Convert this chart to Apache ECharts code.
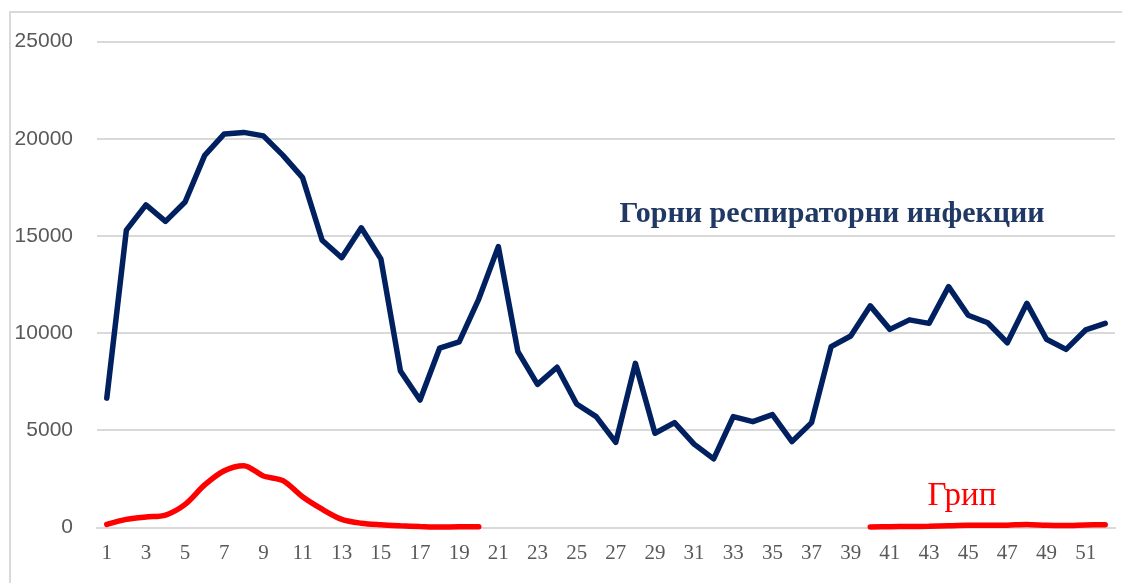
<!DOCTYPE html>
<html>
<head>
<meta charset="utf-8">
<script src="https://cdn.jsdelivr.net/npm/echarts@6/dist/echarts.min.js"></script>
<style>
  html, body { margin: 0; padding: 0; background: #ffffff; }
  #chart { width: 1122px; height: 583px; }
</style>
</head>
<body>
<div id="chart"></div>
<script>
// Weeks of the year
const weeks = Array.from({ length: 52 }, (_, i) => String(i + 1));

// Upper respiratory infections, weekly counts
const upperResp = [
  6650, 15300, 16600, 15750, 16750, 19150, 20250, 20330, 20150, 19150,
  18000, 14780, 13880, 15420, 13820, 8050, 6550, 9220, 9550, 11750,
  14450, 9040, 7360, 8240, 6350, 5700, 4370, 8440, 4840, 5390,
  4280, 3520, 5700, 5440, 5800, 4410, 5390, 9300, 9850, 11400,
  10190, 10680, 10500, 12390, 10920, 10530, 9500, 11530, 9680, 9160,
  10160, 10500
];

// Influenza, weekly counts (no data for weeks 21-39)
const influenza = [
  150, 410, 530, 630, 1180, 2180, 2910, 3170, 2640, 2400,
  1570, 930, 410, 210, 130, 80, 40, 10, 30, 30,
  null, null, null, null, null, null, null, null, null, null,
  null, null, null, null, null, null, null, null, null, 20,
  30, 40, 50, 80, 100, 100, 110, 150, 100, 90,
  120, 130
];

const yTicks = { min: 0, max: 25000, interval: 5000 };

const chart = echarts.init(document.getElementById('chart'), null, { renderer: 'canvas' });

chart.setOption({
  animation: false,
  backgroundColor: '#ffffff',
  grid: { left: 97, right: 7, top: 41.7, bottom: 55.7 },
  xAxis: {
    type: 'category',
    data: weeks,
    boundaryGap: true,
    axisLine: { show: true, lineStyle: { color: '#d9d9d9', width: 2 } },
    axisTick: { show: false },
    axisLabel: {
      interval: 1,
      margin: 16,
      color: '#595959',
      fontFamily: 'Liberation Serif',
      fontSize: 21
    }
  },
  yAxis: {
    type: 'value',
    min: yTicks.min,
    max: yTicks.max,
    interval: yTicks.interval,
    axisLine: { show: false },
    axisTick: { show: false },
    splitLine: { lineStyle: { color: '#d9d9d9', width: 2 } },
    axisLabel: {
      margin: 24,
      color: '#595959',
      fontFamily: 'Liberation Sans',
      fontSize: 21,
      formatter: (v) => String(v)
    }
  },
  series: [
    {
      name: 'Горни респираторни инфекции',
      type: 'line',
      data: upperResp,
      symbol: 'none',
      lineStyle: { color: '#002060', width: 5.5, join: 'round', cap: 'round' },
      z: 3
    },
    {
      name: 'Грип',
      type: 'line',
      data: influenza,
      symbol: 'none',
      connectNulls: false,
      smooth: 0.3,
      lineStyle: { color: '#ff0000', width: 5.5, cap: 'round' },
      z: 4
    }
  ],
  graphic: [
    {
      type: 'rect',
      shape: { x: 10, y: 12, width: 1200, height: 700 },
      style: { fill: 'none', stroke: '#d9d9d9', lineWidth: 2 },
      silent: true
    },
    {
      type: 'text',
      x: 832,
      y: 229,
      style: {
        text: 'Горни респираторни инфекции',
        fill: '#1f3864',
        font: 'bold 30px "Liberation Serif"',
        textAlign: 'center',
        textVerticalAlign: 'bottom'
      }
    },
    {
      type: 'text',
      x: 962,
      y: 513,
      style: {
        text: 'Грип',
        fill: '#ff0000',
        font: '33px "Liberation Serif"',
        textAlign: 'center',
        textVerticalAlign: 'bottom'
      }
    }
  ]
});
</script>
</body>
</html>
